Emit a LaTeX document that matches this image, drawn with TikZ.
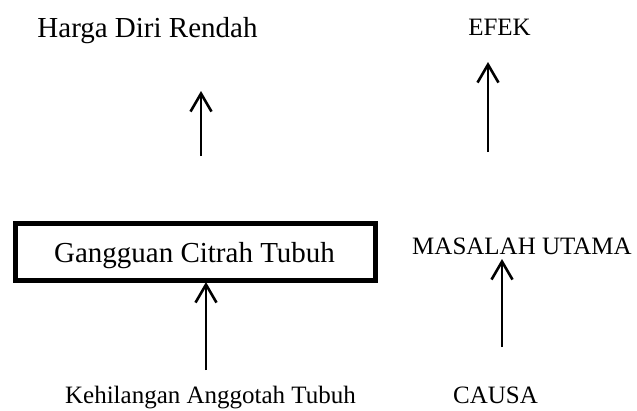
\documentclass[tikz,border=0pt]{standalone}
\usepackage{fontspec}
\setmainfont{Liberation Serif}
\usetikzlibrary{arrows.meta}
\begin{document}
\begin{tikzpicture}[x=1pt,y=-1pt,
  big/.style={font=\fontsize{29}{32}\selectfont, inner sep=0pt, anchor=base},
  small/.style={font=\fontsize{25}{28}\selectfont, inner sep=0pt, anchor=base},
  arr/.style={line width=2.6pt, -{Straight Barb[length=18pt,width=21pt,line width=2.6pt]}}]
\useasboundingbox (0,0) rectangle (637,410);
\node[big] (hdr) at (147.5,37) {Harga Diri Rendah};
\node[small] (efek) at (499.5,35) {EFEK};
\draw[line width=5pt] (15,223) rectangle (375,280);
\node[big] (gct) at (194.5,262) {Gangguan Citrah Tubuh};
\node[small] (mu) at (522,254) {MASALAH UTAMA};
\node[small] (kat) at (210.5,403) {Kehilangan Anggotah Tubuh};
\node[small] (causa) at (495.5,403) {CAUSA};
\coordinate (a1s) at (201,156); \coordinate (a1e) at (201,91);
\coordinate (a2s) at (206,370); \coordinate (a2e) at (206,282);
\coordinate (a3s) at (488,152); \coordinate (a3e) at (488,62);
\coordinate (a4s) at (502,347); \coordinate (a4e) at (502,259);
\draw[arr] (a1s) -- (a1e);
\draw[arr] (a2s) -- (a2e);
\draw[arr] (a3s) -- (a3e);
\draw[arr] (a4s) -- (a4e);
\end{tikzpicture}
\end{document}
